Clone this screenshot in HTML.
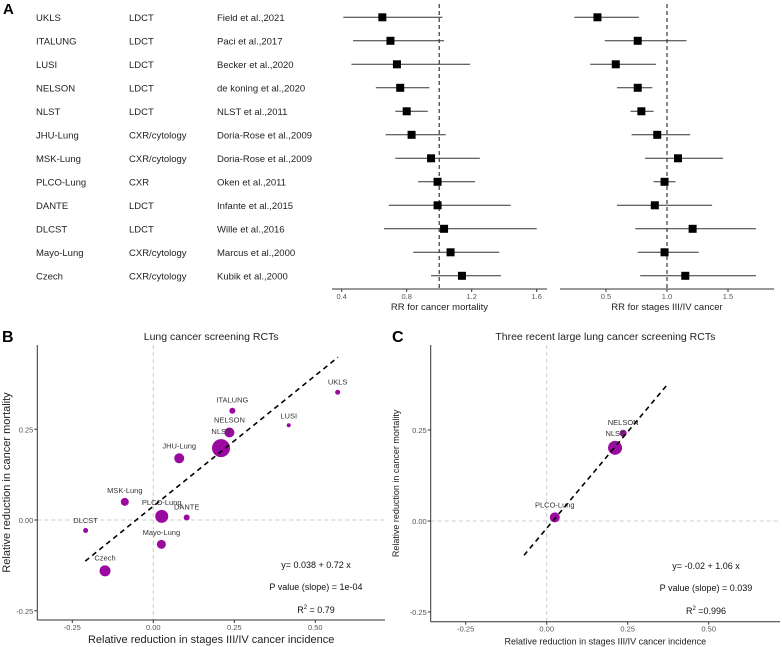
<!DOCTYPE html>
<html><head><meta charset="utf-8"><style>
body{margin:0;background:#fff;}
svg{display:block;font-family:"Liberation Sans",Arial,sans-serif;}
</style></head><body>
<svg id="fig" width="782" height="647" viewBox="0 0 782 647"></svg>
<script>
const studies=["UKLS","ITALUNG","LUSI","NELSON","NLST","JHU-Lung","MSK-Lung","PLCO-Lung","DANTE","DLCST","Mayo-Lung","Czech"];
const techs=["LDCT","LDCT","LDCT","LDCT","LDCT","CXR/cytology","CXR/cytology","CXR","LDCT","LDCT","CXR/cytology","CXR/cytology"];
const refs=["Field et al.,2021","Paci et al.,2017","Becker et al.,2020","de koning et al.,2020","NLST et al.,2011","Doria-Rose et al.,2009","Doria-Rose et al.,2009","Oken et al.,2011","Infante et al.,2015","Wille et al.,2016","Marcus et al.,2000","Kubik et al.,2000"];
const mortRR=[0.65,0.70,0.74,0.76,0.80,0.83,0.95,0.99,0.99,1.03,1.07,1.14];
const mortLo=[0.41,0.47,0.46,0.61,0.73,0.67,0.73,0.87,0.69,0.66,0.84,0.95];
const mortHi=[1.02,1.03,1.19,0.94,0.93,1.04,1.25,1.22,1.44,1.60,1.37,1.38];
const stRR=[0.43,0.76,0.58,0.76,0.79,0.92,1.09,0.98,0.90,1.21,0.98,1.15];
const stLo=[0.24,0.49,0.37,0.59,0.70,0.71,0.82,0.89,0.59,0.74,0.76,0.78];
const stHi=[0.77,1.16,0.91,0.88,0.89,1.19,1.46,1.07,1.37,1.73,1.26,1.73];
const mortTicks=[0.4,0.8,1.2,1.6];
const stTicks=[0.5,1.0,1.5];
// panel B
const bNames=["UKLS","ITALUNG","LUSI","NELSON","NLST","JHU-Lung","MSK-Lung","PLCO-Lung","DANTE","DLCST","Mayo-Lung","Czech"];
const bX=[0.569,0.244,0.418,0.235,0.209,0.080,-0.088,0.026,0.103,-0.209,0.025,-0.149];
const bY=[0.352,0.301,0.261,0.241,0.198,0.170,0.050,0.010,0.007,-0.029,-0.067,-0.140];
const bR=[2.5,3,2,5,9,5,4,6.5,3,2.5,4.5,5.5];
// panel C
const cNames=["NELSON","NLST","PLCO-Lung"];
const cX=[0.236,0.211,0.025];
const cY=[0.241,0.201,0.010];
const cR=[3.5,7,5];
const xTicks=[-0.25,0,0.25,0.5];
const xTickLabels=["-0.25","0.00","0.25","0.50"];
const yTicks=[-0.25,0,0.25];
const yTickLabels=["-0.25","0.00","0.25"];

const NS="http://www.w3.org/2000/svg";
const svg=document.getElementById('fig');
function mk(tag,attrs,parent,text){const e=document.createElementNS(NS,tag);for(const k in attrs)e.setAttribute(k,attrs[k]);if(text!==undefined)e.textContent=text;(parent||svg).appendChild(e);return e;}

let t;
t=mk('text',{x:3,y:14,'font-size':15,'font-weight':'bold'},svg,'A');


t=mk('text',{x:2,y:342,'font-size':16,'font-weight':'bold'},svg,'B');


t=mk('text',{x:392,y:342,'font-size':16,'font-weight':'bold'},svg,'C');



const rowY=i=>17.3+23.5*i;
studies.forEach((s,i)=>{
  const y=rowY(i)+3.5;
  let e=mk('text',{x:36,y:y,'font-size':9.5,fill:'#222'},svg,s);
  
  
  e=mk('text',{x:129,y:y,'font-size':9.5,fill:'#222'},svg,techs[i]);
  
  
  e=mk('text',{x:217,y:y,'font-size':9.5,fill:'#222'},svg,refs[i]);
  
  
});

function forest(scale,rr,lo,hi,ticks,tickFmt,axX0,axX1,title,name){
  const grp=mk('g',{},svg);
  
  
  mk('line',{x1:axX0,x2:axX1,y1:289,y2:289,stroke:'#333','stroke-width':1},grp);
  ticks.forEach(v=>{
    mk('line',{x1:scale(v),x2:scale(v),y1:289,y2:292,stroke:'#333'},grp);
    const tl=mk('text',{x:scale(v),y:299,'font-size':7.5,fill:'#555','text-anchor':'middle'},grp,tickFmt(v));
    
    
  });
  const ti=mk('text',{x:(axX0+axX1)/2,y:310,'font-size':9.5,fill:'#222','text-anchor':'middle'},grp,title);
  
  
  mk('line',{x1:scale(1),x2:scale(1),y1:4,y2:289,stroke:'#111','stroke-dasharray':'4,3','stroke-width':1},grp);
  rr.forEach((v,i)=>{
    const y=rowY(i);
    const l=mk('line',{x1:scale(lo[i]),x2:scale(hi[i]),y1:y,y2:y,stroke:'#333','stroke-width':1},grp);
    
    
    const r=mk('rect',{x:scale(v)-4,y:y-4,width:8,height:8,fill:'#000'},grp);
    
    
  });
}
const mScale=v=>341.7+(v-0.4)*162.5;
const sScale=v=>667+(v-1)*122;
forest(mScale,mortRR,mortLo,mortHi,mortTicks,v=>v.toFixed(1),332,547,'RR for cancer mortality','mortality-forest');
forest(sScale,stRR,stLo,stHi,stTicks,v=>v.toFixed(1),560,774,'RR for stages III/IV cancer','stage-forest');

function scatter(opt){
  const g=mk('g',{},svg);
  
  
  const sx=v=>opt.x0+v*opt.kx, sy=v=>opt.y0-v*opt.ky;
  mk('line',{x1:sx(0),x2:sx(0),y1:opt.top,y2:opt.bottom,stroke:'#ccc','stroke-dasharray':'4,3'},g);
  mk('line',{x1:opt.left,x2:opt.right,y1:sy(0),y2:sy(0),stroke:'#ccc','stroke-dasharray':'4,3'},g);
  mk('line',{x1:opt.left,x2:opt.left,y1:opt.top,y2:opt.bottom,stroke:'#333'},g);
  mk('line',{x1:opt.left,x2:opt.right,y1:opt.bottom,y2:opt.bottom,stroke:'#333'},g);
  xTicks.forEach((v,i)=>{
    mk('line',{x1:sx(v),x2:sx(v),y1:opt.bottom,y2:opt.bottom+3,stroke:'#333'},g);
    const e=mk('text',{x:sx(v),y:opt.bottom+10,'font-size':7.5,fill:'#555','text-anchor':'middle'},g,xTickLabels[i]);
    
    
  });
  yTicks.forEach((v,i)=>{
    mk('line',{x1:opt.left-3,x2:opt.left,y1:sy(v),y2:sy(v),stroke:'#333'},g);
    const e=mk('text',{x:opt.left-4,y:sy(v)+3,'font-size':7.5,fill:'#555','text-anchor':'end'},g,yTickLabels[i]);
    
    
  });
  let e=mk('text',{x:(opt.left+opt.right)/2,y:opt.top-5,'font-size':10.5,fill:'#222','text-anchor':'middle'},g,opt.title);
  
  
  e=mk('text',{x:(opt.left+opt.right)/2,y:opt.bottom+23,'font-size':opt.axFs,fill:'#222','text-anchor':'middle'},g,'Relative reduction in stages III/IV cancer incidence');
  
  
  const cy=(opt.top+opt.bottom)/2;
  e=mk('text',{x:opt.ytx,y:cy,'font-size':opt.axFs,fill:'#222','text-anchor':'middle',transform:`rotate(-90 ${opt.ytx} ${cy})`},g,'Relative reduction in cancer mortality');
  
  
  opt.xs.forEach((v,i)=>{
    const c=mk('circle',{cx:sx(v),cy:sy(opt.ys[i]),r:opt.rs[i],fill:'#9a0aa0'},g);
    
    
    const l=mk('text',{x:sx(v),y:sy(opt.ys[i])-opt.rs[i]-5,'font-size':7.5,fill:'#333','text-anchor':'middle'},g,opt.names[i]);
    
    
  });
  const [a,b]=opt.coef;
  const rl=mk('line',{x1:sx(opt.lx[0]),y1:sy(a+b*opt.lx[0]),x2:sx(opt.lx[1]),y2:sy(a+b*opt.lx[1]),stroke:'#000','stroke-width':1.6,'stroke-dasharray':'5,4'},g);
  
  
  const ax=opt.annX;
  e=mk('text',{x:ax,y:opt.annY,'font-size':9,fill:'#111','text-anchor':'middle'},g,opt.eq);
  
  
  e=mk('text',{x:ax,y:opt.annY+22,'font-size':9,fill:'#111','text-anchor':'middle'},g,opt.pv);
  
  
  e=mk('text',{x:ax,y:opt.annY+45,'font-size':9,fill:'#111','text-anchor':'middle'},g);
  e.innerHTML='R<tspan dy="-4" font-size="6">2</tspan><tspan dy="4">'+opt.r2+'</tspan>';
  
  
}
scatter({name:'panel-b-scatter',x0:153.3,kx:324,y0:520,ky:363,left:37.3,right:385,top:345,bottom:620,
  title:'Lung cancer screening RCTs',axFs:11,ytx:10,xs:bX,ys:bY,rs:bR,names:bNames,coef:[0.038,0.72],lx:[-0.21,0.57],
  annX:316,annY:568,eq:'y= 0.038 + 0.72 x',pv:'P value (slope) =  1e-04',r2:' = 0.79'});
scatter({name:'panel-c-scatter',x0:546.7,kx:324,y0:521,ky:364,left:430.7,right:780,top:345,bottom:621.7,
  title:'Three recent large lung cancer screening RCTs',axFs:9,ytx:399,xs:cX,ys:cY,rs:cR,names:cNames,coef:[-0.02,1.06],lx:[-0.07,0.37],
  annX:706,annY:569,eq:'y= -0.02 + 1.06 x',pv:'P value (slope) =  0.039',r2:' =0.996'});
</script>
</body></html>
